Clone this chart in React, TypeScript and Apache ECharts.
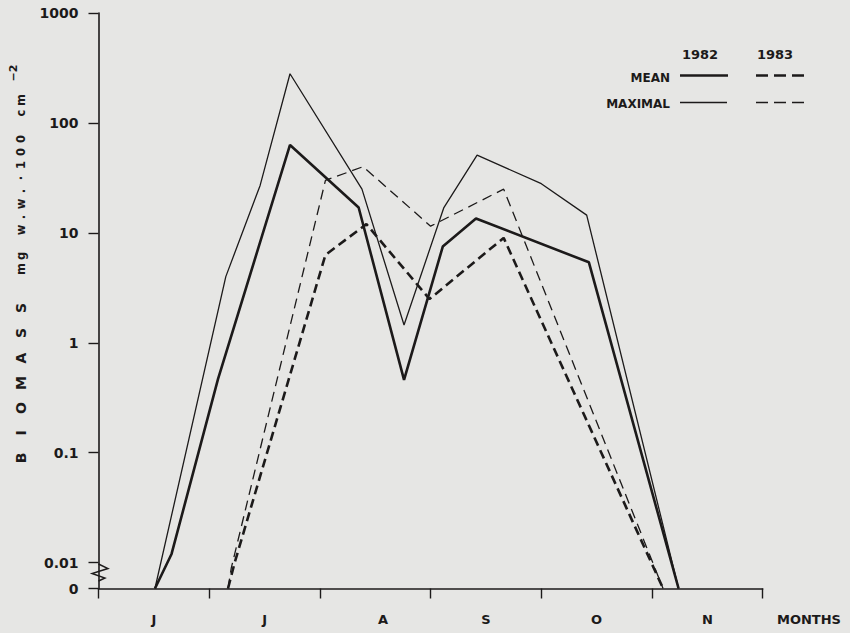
import React, { useEffect, useRef } from "react";
import * as echarts from "echarts";

// ---- axis data ----
const monthLabels = ["J", "J", "A", "S", "O", "N"];
const monthLabelPositions = [0.5, 1.5, 2.57, 3.5, 4.5, 5.5];
const monthBoundaries = [0, 1, 2, 3, 4, 5, 6];
const yTickValues = [0, 0.01, 0.1, 1, 10, 100, 1000];
const yTickLabels = ["0", "0.01", "0.1", "1", "10", "100", "1000"];
const zeroPlacement = 0.00582; // broken axis: where "0" sits

// ---- series data (x in months from 1 June, y = biomass mg w.w. / 100 cm^2) ----
const mean1982X = [0.51, 0.66, 1.08, 1.73, 2.35, 2.76, 3.11, 3.41, 4.43, 5.24];
const mean1982Y = [0, 0.012, 0.47, 63, 17, 0.46, 7.5, 13.5, 5.4, 0];
const max1982X = [0.51, 1.15, 1.46, 1.73, 2.38, 2.76, 3.12, 3.42, 4.0, 4.41, 5.24];
const max1982Y = [0, 4.0, 27, 280, 25, 1.45, 17, 51, 28, 14.5, 0];
const mean1983X = [1.17, 1.23, 2.05, 2.42, 2.99, 3.66, 5.1];
const mean1983Y = [0, 0.01, 6.3, 12, 2.5, 9.0, 0];
const max1983X = [1.17, 1.2, 2.05, 2.39, 3.0, 3.66, 5.1];
const max1983Y = [0, 0.009, 30, 40, 11.5, 25, 0];

const toAxis = (v: number) => Math.log10(v === 0 ? zeroPlacement : v);
const pairs = (xs: number[], ys: number[]) => xs.map((x, i) => [x, toAxis(ys[i])]);

const INK = "#1c1a1a";
const BG = "#e6e6e4";
const FONT = "DejaVu Sans";

function charRow(text: string, startX: number, advance: number, y: number, size: number) {
  return text.split("").map((ch, i) => ({
    type: "text",
    x: startX + i * advance,
    y,
    style: {
      text: ch,
      fill: INK,
      font: `bold ${size}px "${FONT}"`,
      align: "center",
      verticalAlign: "middle",
    },
  }));
}

export default function App() {
  const ref = useRef<HTMLDivElement>(null);

  useEffect(() => {
    if (!ref.current) return;
    const chart = echarts.init(ref.current, undefined, { renderer: "svg" });

    const solidThick = { color: INK, width: 2.6, type: "solid" as const };
    const solidThin = { color: INK, width: 1.3, type: "solid" as const };
    const dashThick = { color: INK, width: 2.6, type: [9, 5] as any };
    const dashThin = { color: INK, width: 1.3, type: [10, 6] as any };

    const option: any = {
      animation: false,
      backgroundColor: BG,
      grid: { left: 98.5, right: 87.3, top: 13, bottom: 44.5, containLabel: false },
      xAxis: {
        type: "value",
        min: 0,
        max: 6,
        axisLine: { onZero: false, lineStyle: { color: INK, width: 1.6 } },
        axisTick: {
          show: true,
          length: 10,
          customValues: monthBoundaries,
          lineStyle: { color: INK, width: 1.4 },
        },
        axisLabel: {
          customValues: monthLabelPositions,
          margin: 24,
          color: INK,
          fontFamily: FONT,
          fontWeight: "bold",
          fontSize: 13,
          formatter: (v: number) => {
            const i = monthLabelPositions.findIndex((p) => Math.abs(p - v) < 1e-6);
            return i >= 0 ? monthLabels[i] : "";
          },
        },
        splitLine: { show: false },
      },
      yAxis: {
        type: "value",
        min: toAxis(0),
        max: toAxis(1000),
        axisLine: { show: true, onZero: false, lineStyle: { color: INK, width: 1.6 } },
        axisTick: {
          show: true,
          length: 10,
          customValues: yTickValues.map(toAxis),
          lineStyle: { color: INK, width: 1.4 },
        },
        axisLabel: {
          customValues: yTickValues.map(toAxis),
          margin: 20,
          color: INK,
          fontFamily: FONT,
          fontWeight: "bold",
          fontSize: 14,
          formatter: (v: number) => {
            const i = yTickValues.findIndex((t) => Math.abs(toAxis(t) - v) < 1e-6);
            return i >= 0 ? yTickLabels[i] : "";
          },
        },
        splitLine: { show: false },
      },
      series: [
        { name: "MEAN 1982", type: "line", data: pairs(mean1982X, mean1982Y), symbol: "none", lineStyle: solidThick, z: 3 },
        { name: "MAXIMAL 1982", type: "line", data: pairs(max1982X, max1982Y), symbol: "none", lineStyle: solidThin, z: 3 },
        { name: "MEAN 1983", type: "line", data: pairs(mean1983X, mean1983Y), symbol: "none", lineStyle: dashThick, z: 3 },
        { name: "MAXIMAL 1983", type: "line", data: pairs(max1983X, max1983Y), symbol: "none", lineStyle: dashThin, z: 3 },
      ],
      graphic: [
        // axis break marker
        {
          type: "polyline",
          shape: { points: [[98.5, 564], [108, 568.5], [92, 573.5], [105, 578], [98.5, 581]] },
          style: { stroke: INK, lineWidth: 1.4, fill: "none" },
          z: 10,
        },
        // x axis name
        {
          type: "text",
          x: 777,
          y: 619,
          style: { text: "MONTHS", fill: INK, font: `bold 13px "${FONT}"`, align: "left", verticalAlign: "middle" },
        },
        // y axis title (rotated)
        {
          type: "group",
          x: 21,
          y: 465,
          rotation: Math.PI / 2,
          children: [
            ...charRow("BIOMASS", 7, 25, 0, 14),
            ...charRow("mg w.w.\u00b7100 cm", 196, 13, 0, 11.5),
            {
              type: "text",
              x: 392,
              y: -8,
              style: { text: "\u22122", fill: INK, font: `bold 11px "${FONT}"`, align: "center", verticalAlign: "middle" },
            },
          ],
        },
        // legend
        { type: "text", x: 700, y: 54.5, style: { text: "1982", fill: INK, font: `bold 13px "${FONT}"`, align: "center", verticalAlign: "middle" } },
        { type: "text", x: 775, y: 54.5, style: { text: "1983", fill: INK, font: `bold 13px "${FONT}"`, align: "center", verticalAlign: "middle" } },
        { type: "text", x: 670, y: 78, style: { text: "MEAN", fill: INK, font: `bold 12px "${FONT}"`, align: "right", verticalAlign: "middle" } },
        { type: "text", x: 670, y: 104, style: { text: "MAXIMAL", fill: INK, font: `bold 12px "${FONT}"`, align: "right", verticalAlign: "middle" } },
        { type: "line", shape: { x1: 680, y1: 75.5, x2: 728, y2: 75.5 }, style: { stroke: INK, lineWidth: 2.6 } },
        { type: "line", shape: { x1: 756, y1: 75.5, x2: 804, y2: 75.5 }, style: { stroke: INK, lineWidth: 2.6, lineDash: [12, 6] } },
        { type: "line", shape: { x1: 680, y1: 102.5, x2: 727, y2: 102.5 }, style: { stroke: INK, lineWidth: 1.5 } },
        { type: "line", shape: { x1: 756, y1: 102.5, x2: 804, y2: 102.5 }, style: { stroke: INK, lineWidth: 1.5, lineDash: [12, 6] } },
      ],
    };

    chart.setOption(option);
    return () => chart.dispose();
  }, []);

  return (
    <div
      ref={ref}
      style={{ position: "fixed", left: 0, top: 0, width: 850, height: 633 }}
    />
  );
}
